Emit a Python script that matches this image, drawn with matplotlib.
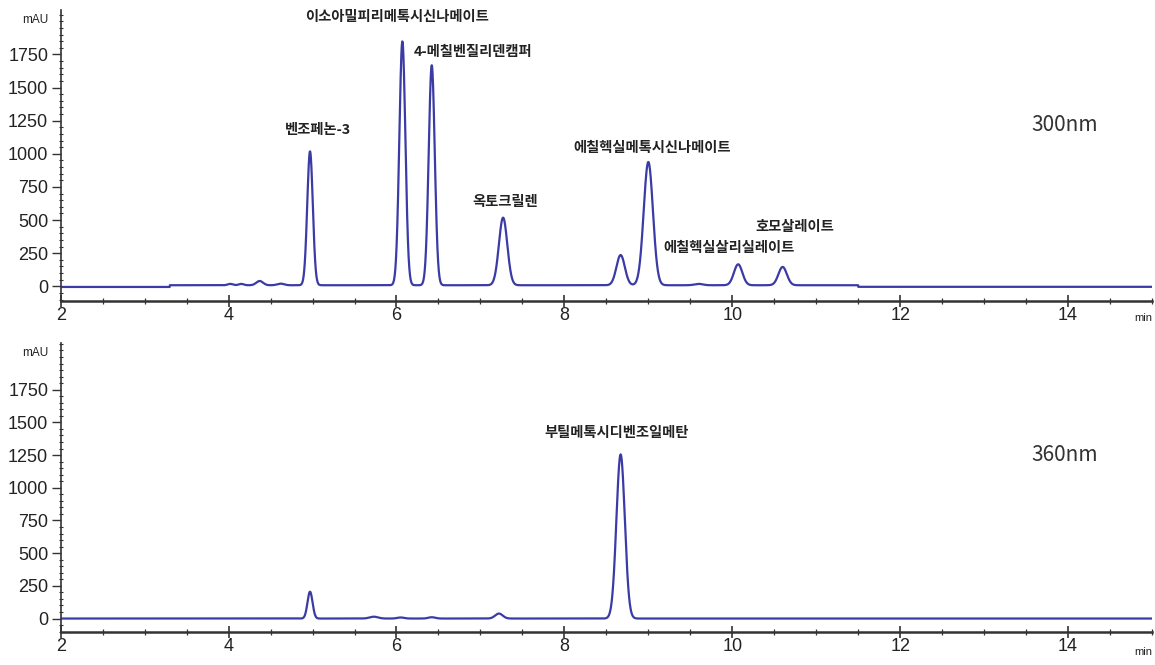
import numpy as np
import matplotlib
matplotlib.use("Agg")
import matplotlib.pyplot as plt
from matplotlib.ticker import MultipleLocator

# ---------------- data ----------------
# 300 nm chromatogram: peak retention times (min), heights (mAU), widths (sigma, min)
rt_300 = [4.02, 4.15, 4.37, 4.62, 4.97, 6.07, 6.42, 7.27, 8.67, 9.00, 9.60, 10.07, 10.60]
h_300 = [10, 10, 32, 12, 1010, 1840, 1660, 510, 228, 930, 10, 158, 138]
w_300 = [0.03, 0.03, 0.04, 0.04, 0.033, 0.036, 0.036, 0.05, 0.05, 0.055, 0.05, 0.05, 0.05]
base_t_300 = [2.0, 3.3, 11.5]
base_lv_300 = [-5, 8, -4]

# 360 nm chromatogram
rt_360 = [4.97, 5.73, 6.05, 6.42, 7.22, 8.67]
h_360 = [205, 14, 8, 10, 38, 1255]
w_360 = [0.03, 0.05, 0.04, 0.04, 0.045, 0.05]
base_t_360 = [2.0]
base_lv_360 = [0]

labels_300 = ["이소아밀피리메톡시신나메이트", "4-메칠벤질리덴캠퍼", "벤조페논-3", "옥토크릴렌",
              "에칠헥실메톡시신나메이트", "에칠헥실살리실레이트", "호모살레이트"]
labels_360 = ["부틸메톡시디벤조일메탄"]
wavelengths = ["300nm", "360nm"]
y_ticks = [0, 250, 500, 750, 1000, 1250, 1500, 1750]
x_ticks = [2, 4, 6, 8, 10, 12, 14]

# ---------------- helpers ----------------
def trace(rts, hs, ws, bt, bl):
    x = np.linspace(2.0, 15.0, 8000)
    y = np.zeros_like(x)
    for t, lv in zip(bt, bl):
        y[x >= t] = lv
    for r, h, w in zip(rts, hs, ws):
        y += h * np.exp(-0.5 * ((x - r) / w) ** 2)
    return x, y

KR = ["Noto Sans CJK KR", "DejaVu Sans"]
NUM = ["Liberation Sans", "DejaVu Sans"]
LINE = "#3b3ba6"
AXC = "#333333"

fig = plt.figure(figsize=(11.55, 6.65), dpi=100)
fig.patch.set_facecolor("white")

W = 1155.0
H = 665.0
ax1 = fig.add_axes([60.7 / W, 1 - 301 / H, (1152 - 60.7) / W, (301 - 10) / H])
ax2 = fig.add_axes([60.7 / W, 1 - 632 / H, (1152 - 60.7) / W, (632 - 343) / H])

def style(ax, ylim):
    ax.set_xlim(2, 15)
    ax.set_ylim(*ylim)
    for s in ["top", "right"]:
        ax.spines[s].set_visible(False)
    ax.spines["left"].set_color(AXC)
    ax.spines["bottom"].set_color(AXC)
    ax.spines["left"].set_linewidth(1.2)
    ax.spines["bottom"].set_linewidth(1.8)
    ax.set_yticks(y_ticks)
    ax.set_yticklabels([str(v) for v in y_ticks])
    ax.yaxis.set_minor_locator(MultipleLocator(50))
    ax.set_xticks(x_ticks)
    ax.set_xticklabels([str(v) for v in x_ticks])
    ax.xaxis.set_minor_locator(MultipleLocator(0.5))
    ax.tick_params(axis="y", which="major", direction="out", length=6.5, width=1.0,
                   color=AXC, pad=2.5, labelsize=13, labelcolor="#222222")
    ax.tick_params(axis="y", which="minor", direction="inout", length=3.5, width=0.8, color=AXC)
    ax.tick_params(axis="x", which="major", direction="inout", length=9, width=1.2,
                   color=AXC, pad=0, labelsize=13, labelcolor="#222222")
    ax.tick_params(axis="x", which="minor", direction="inout", length=4.5, width=0.9, color=AXC)
    for lab in ax.get_xticklabels() + ax.get_yticklabels():
        lab.set_family(NUM)
    ax.set_facecolor("white")

style(ax1, (-111, 2085))
style(ax2, (-103, 2107))

x1, y1 = trace(rt_300, h_300, w_300, base_t_300, base_lv_300)
x2, y2 = trace(rt_360, h_360, w_360, base_t_360, base_lv_360)
ax1.plot(x1, y1, color=LINE, lw=1.6, solid_joinstyle="round")
ax2.plot(x2, y2, color=LINE, lw=1.6, solid_joinstyle="round")

kw = dict(family=KR, fontsize=10.3, fontweight="bold", color="#222222", va="center")
ax1.text(6.00, 2032, labels_300[0], ha="center", **kw)
ax1.text(6.20, 1765, labels_300[1], ha="left", **kw)
ax1.text(5.07, 1180, labels_300[2], ha="center", **kw)
ax1.text(7.30, 636, labels_300[3], ha="center", **kw)
ax1.text(9.04, 1044, labels_300[4], ha="center", **kw)
ax1.text(9.96, 289, labels_300[5], ha="center", **kw)
ax1.text(10.75, 447, labels_300[6], ha="center", **kw)
ax2.text(8.62, 1417, labels_360[0], ha="center", **kw)

wkw = dict(family=KR, fontsize=15, color="#333333", ha="center", va="center", fontweight="light")
ax1.text(13.96, 1217, wavelengths[0], **wkw)
ax2.text(13.96, 1249, wavelengths[1], **wkw)

for ax, ym, ymin in [(ax1, 2010, -239), (ax2, 2028, -258)]:
    ax.text(1.85, ym, "mAU", family=NUM, fontsize=8.5, color="#222222",
            ha="right", va="center", clip_on=False)
    ax.text(15.0, ymin, "min", family=NUM, fontsize=8, color="#222222",
            ha="right", va="center", clip_on=False)

fig.savefig("out.png", dpi=100, facecolor="white")
